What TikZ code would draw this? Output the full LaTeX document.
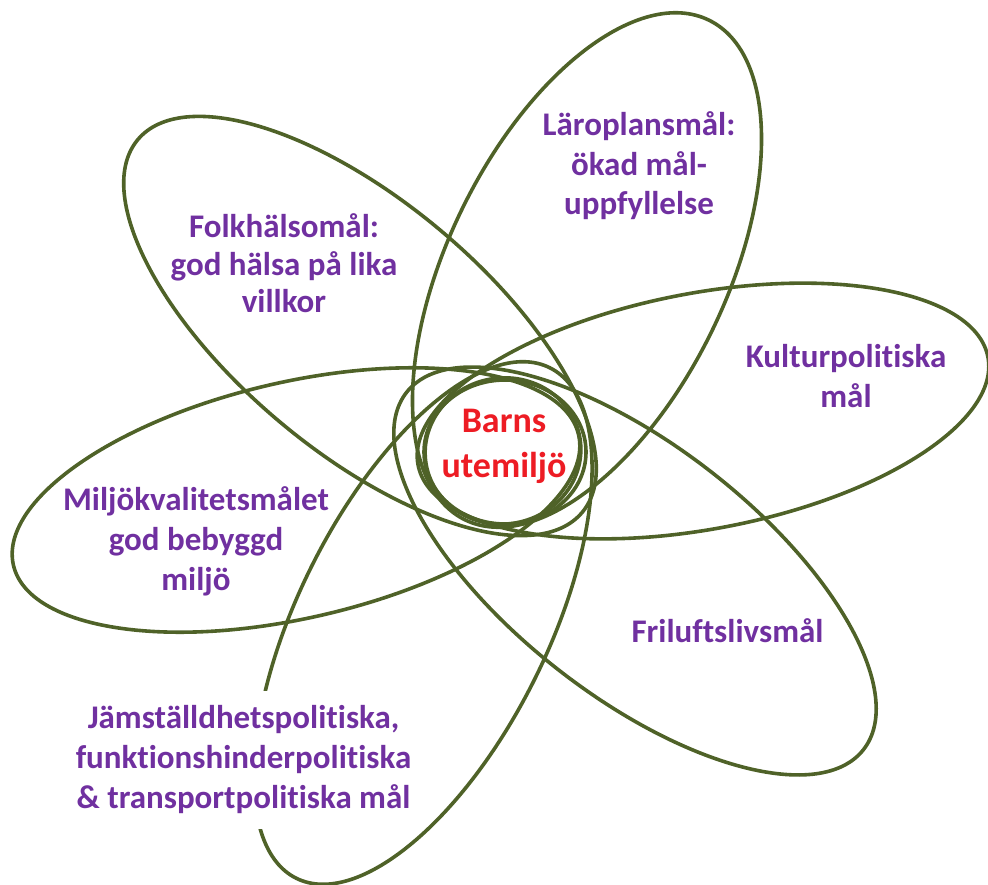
\documentclass[tikz,border=0pt]{standalone}
\usepackage{fontspec}
\setmainfont{Carlito}[Ligatures=NoCommon]
\definecolor{ringgreen}{HTML}{4F6228}
\definecolor{labelpurple}{HTML}{7030A0}
\definecolor{centerred}{HTML}{ED1C24}
\begin{document}
\begin{tikzpicture}[x=1pt,y=-1pt,
  ring/.style={draw=ringgreen, line width=3.6pt},
  goal/.style={text=labelpurple, font=\bfseries\fontsize{33}{40}\selectfont, align=center, inner sep=0pt},
  corelabel/.style={text=centerred, font=\bfseries\fontsize{36}{45}\selectfont, align=center, inner sep=0pt}]
\useasboundingbox (0,0) rectangle (988,885);
% petals
\draw[ring, rotate around={-40:(360,326)}] (360,326) ellipse [x radius=290, y radius=125];
\draw[ring, rotate around={64:(587,270)}] (587,270) ellipse [x radius=278, y radius=139];
\draw[ring, rotate around={10.7:(703,411)}] (703,411) ellipse [x radius=290, y radius=118];
\draw[ring, rotate around={13:(296,500)}] (296,500) ellipse [x radius=290, y radius=118];
\draw[ring, rotate around={-38:(635,571)}] (635,571) ellipse [x radius=290, y radius=125];
\draw[ring, rotate around={63.6:(423,623)}] (423,623) ellipse [x radius=285, y radius=125];
% centre rings
\draw[ring] (505,452) ellipse [x radius=81, y radius=72];
\draw[ring, rotate around={10:(503,451)}] (503,451) ellipse [x radius=78, y radius=73];
% labels
\node[goal, font=\bfseries\fontsize{33}{38}\selectfont] (folk) at (284,267.4) {Folkhälsomål:\strut\\god hälsa på lika\strut\\villkor\strut};
\node[goal, font=\bfseries\fontsize{33}{39.5}\selectfont] (laro) at (639,167.6) {Läroplansmål:\strut\\ökad mål-\strut\\uppfyllelse\strut};
\node[goal] (kultur) at (846,379) {Kulturpolitiska\strut\\mål\strut};
\node[goal] (miljo) at (196,542) {Miljökvalitetsmålet\strut\\god bebyggd\strut\\miljö\strut};
\node[goal] (frilufts) at (727.5,634) {Friluftslivsmål\strut};
\node[goal, fill=white, inner xsep=8pt, inner ysep=9pt] (jamst) at (243.5,760) {Jämställdhetspolitiska,\strut\\funktionshinderpolitiska\strut\\\& transportpolitiska mål\strut};
\node[corelabel] (core) at (504,445.5) {Barns\strut\\utemiljö\strut};
\end{tikzpicture}
\end{document}
